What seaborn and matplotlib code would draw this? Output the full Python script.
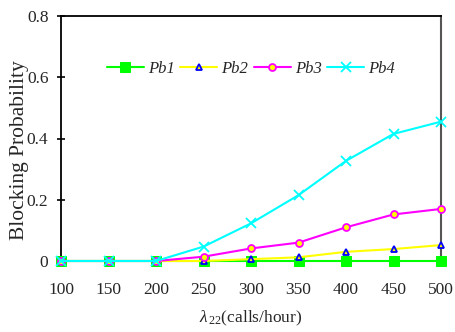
import matplotlib
matplotlib.use("Agg")
import matplotlib.pyplot as plt
import seaborn as sns
import pandas as pd

x_vals = [100, 150, 200, 250, 300, 350, 400, 450, 500]
pb1 = [0, 0, 0, 0, 0, 0, 0, 0, 0]
pb2 = [0, 0, 0, 0.0, 0.006, 0.012, 0.030, 0.039, 0.052]
pb3 = [0, 0, 0, 0.014, 0.041, 0.060, 0.110, 0.152, 0.170]
pb4 = [0, 0, 0, 0.047, 0.123, 0.215, 0.327, 0.415, 0.455]
series_names = ["Pb1", "Pb2", "Pb3", "Pb4"]
y_ticks = [0, 0.2, 0.4, 0.6, 0.8]
y_tick_labels = ["0", "0.2", "0.4", "0.6", "0.8"]

sns.set_theme(style="white")
plt.rcParams['font.family'] = ['Liberation Serif', 'DejaVu Serif']
plt.rcParams['mathtext.fontset'] = 'custom'
plt.rcParams['mathtext.it'] = 'Liberation Serif:italic'
plt.rcParams['mathtext.rm'] = 'Liberation Serif'

fig = plt.figure(figsize=(4.56, 3.32), dpi=100)
ax = fig.add_axes([61/456, 1-261/332, 380/456, 245/332])

styles = [
    dict(color='#00ff00', marker='s', markersize=7.5, markerfacecolor='#00ff00', markeredgecolor='#00ff00'),
    dict(color='#ffff00', marker='^', markersize=5, markerfacecolor='#ffff00', markeredgecolor='#0000ff', markeredgewidth=1.3),
    dict(color='#ff00ff', marker='o', markersize=5, markerfacecolor='#ffff00', markeredgecolor='#ff00ff', markeredgewidth=1.3),
    dict(color='#00ffff', marker='x', markersize=6.5, markeredgecolor='#00ffff', markeredgewidth=1.3),
]
for name, vals, st in zip(series_names, [pb1, pb2, pb3, pb4], styles):
    df = pd.DataFrame({"x": x_vals, "y": vals})
    sns.lineplot(data=df, x="x", y="y", ax=ax, label=name, linewidth=1.5,
                 clip_on=False, zorder=5, **st)

ax.set_xlim(100, 500)
ax.set_ylim(0, 0.8)
ax.set_xticks(x_vals)
ax.set_xticklabels([str(v) for v in x_vals], fontsize=12.5)
ax.set_yticks(y_ticks)
ax.set_yticklabels(y_tick_labels, fontsize=12.5)
ax.tick_params(axis='x', length=0, pad=15)
ax.tick_params(axis='y', direction='inout', length=6, width=1.2, color='black', pad=6, left=True)

for s in ['left', 'top', 'bottom']:
    ax.spines[s].set_color('black')
    ax.spines[s].set_linewidth(1.3)
ax.spines['right'].set_color('#555555')
ax.spines['right'].set_linewidth(1.5)

ax.set_xlabel(r'$\lambda_{\,22}$(calls/hour)', fontsize=12.5, labelpad=8)
ax.set_ylabel('Blocking Probability', fontsize=15.5)
ax.yaxis.set_label_coords(-0.085, 0.453)

leg = ax.legend(loc='center', bbox_to_anchor=(0.50, 0.785), ncol=4, frameon=False,
                prop={'family': 'Liberation Serif', 'style': 'italic', 'size': 12},
                handlelength=2.2, handletextpad=0.25, columnspacing=0.35, borderaxespad=0)

fig.savefig("out.png", dpi=100)
